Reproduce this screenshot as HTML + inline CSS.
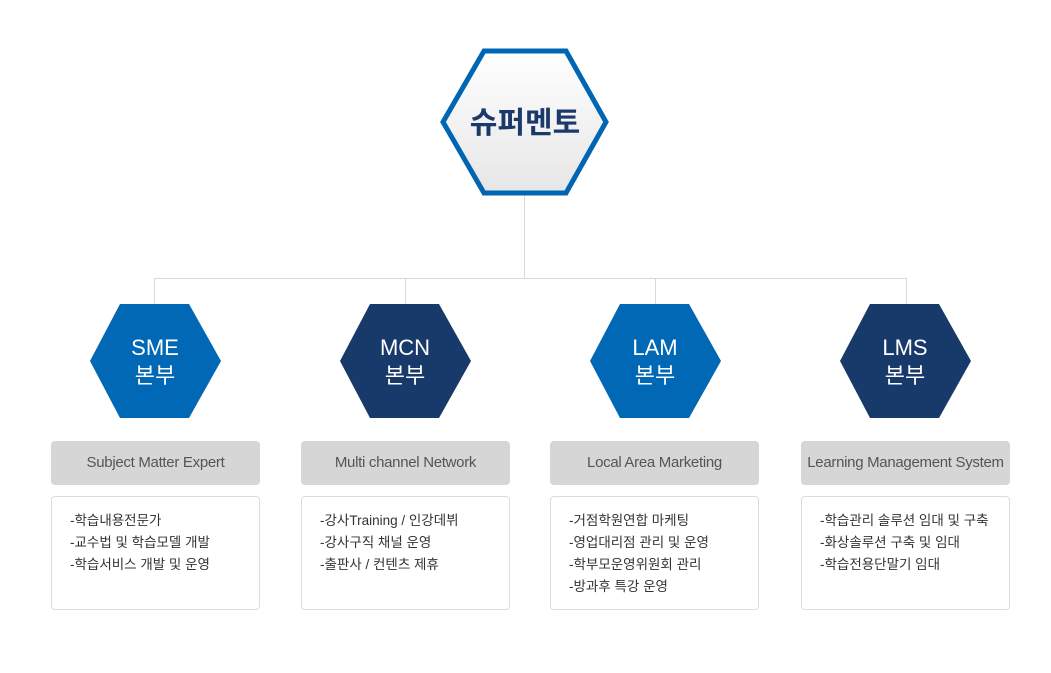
<!DOCTYPE html>
<html><head><meta charset="utf-8"><style>
body{margin:0;width:1051px;height:673px;background:#fff;position:relative;overflow:hidden;font-family:"Liberation Sans","Noto Sans CJK KR",sans-serif}
.g{position:absolute;top:441px;width:209px;height:44px;background:#d6d6d6;border-radius:4px;text-align:center;line-height:44px;font-size:15px;color:#555;letter-spacing:-0.3px}
.w{position:absolute;top:496px;border:1px solid #dcdcdc;border-radius:4px;font-size:13.5px;color:#333;line-height:22px;padding-top:13px;box-sizing:border-box;padding-left:18px;height:114px;width:209px}
</style></head><body>
<svg width="1051" height="673" style="position:absolute;left:0;top:0">
<defs><linearGradient id="gr" x1="0" y1="0" x2="0" y2="1"><stop offset="0" stop-color="#fff"/><stop offset="1" stop-color="#e6e6e6"/></linearGradient></defs>
<g stroke="#d8d8d8" stroke-width="1" fill="none">
<line x1="524.5" y1="195" x2="524.5" y2="278"/>
<line x1="154" y1="278.5" x2="907" y2="278.5"/>
<line x1="154.5" y1="278" x2="154.5" y2="304"/>
<line x1="405.5" y1="278" x2="405.5" y2="304"/>
<line x1="655.5" y1="278" x2="655.5" y2="304"/>
<line x1="906.5" y1="278" x2="906.5" y2="304"/>
</g>
<polygon points="443,122 484,51 566,51 606,122 566,193 484,193" fill="url(#gr)" stroke="#0066b3" stroke-width="5"/>
<text x="525" y="133" text-anchor="middle" font-size="30" font-weight="bold" fill="#1b3a6b" font-family="Liberation Sans,Noto Sans CJK KR,sans-serif">슈퍼멘토</text>
<polygon points="90,361 120,304 189,304 221,361 189,418 120,418" fill="#0068b5"/>
<polygon points="340,361 370,304 439,304 471,361 439,418 370,418" fill="#173a6a"/>
<polygon points="590,361 620,304 689,304 721,361 689,418 620,418" fill="#0068b5"/>
<polygon points="840,361 870,304 939,304 971,361 939,418 870,418" fill="#173a6a"/>
<g fill="#fff" font-size="22" text-anchor="middle" font-family="Liberation Sans,Noto Sans CJK KR,sans-serif">
<text x="155" y="355">SME</text><text x="155" y="383">본부</text>
<text x="405" y="355">MCN</text><text x="405" y="383">본부</text>
<text x="655" y="355">LAM</text><text x="655" y="383">본부</text>
<text x="905" y="355">LMS</text><text x="905" y="383">본부</text>
</g>
</svg>
<div class="g" style="left:51px">Subject Matter Expert</div>
<div class="g" style="left:301px">Multi channel Network</div>
<div class="g" style="left:550px">Local Area Marketing</div>
<div class="g" style="left:801px">Learning Management System</div>
<div class="w" style="left:51px">-학습내용전문가<br>-교수법 및 학습모델 개발<br>-학습서비스 개발 및 운영</div>
<div class="w" style="left:301px">-강사Training / 인강데뷔<br>-강사구직 채널 운영<br>-출판사 / 컨텐츠 제휴</div>
<div class="w" style="left:550px">-거점학원연합 마케팅<br>-영업대리점 관리 및 운영<br>-학부모운영위원회 관리<br>-방과후 특강 운영</div>
<div class="w" style="left:801px">-학습관리 솔루션 임대 및 구축<br>-화상솔루션 구축 및 임대<br>-학습전용단말기 임대</div>
</body></html>
